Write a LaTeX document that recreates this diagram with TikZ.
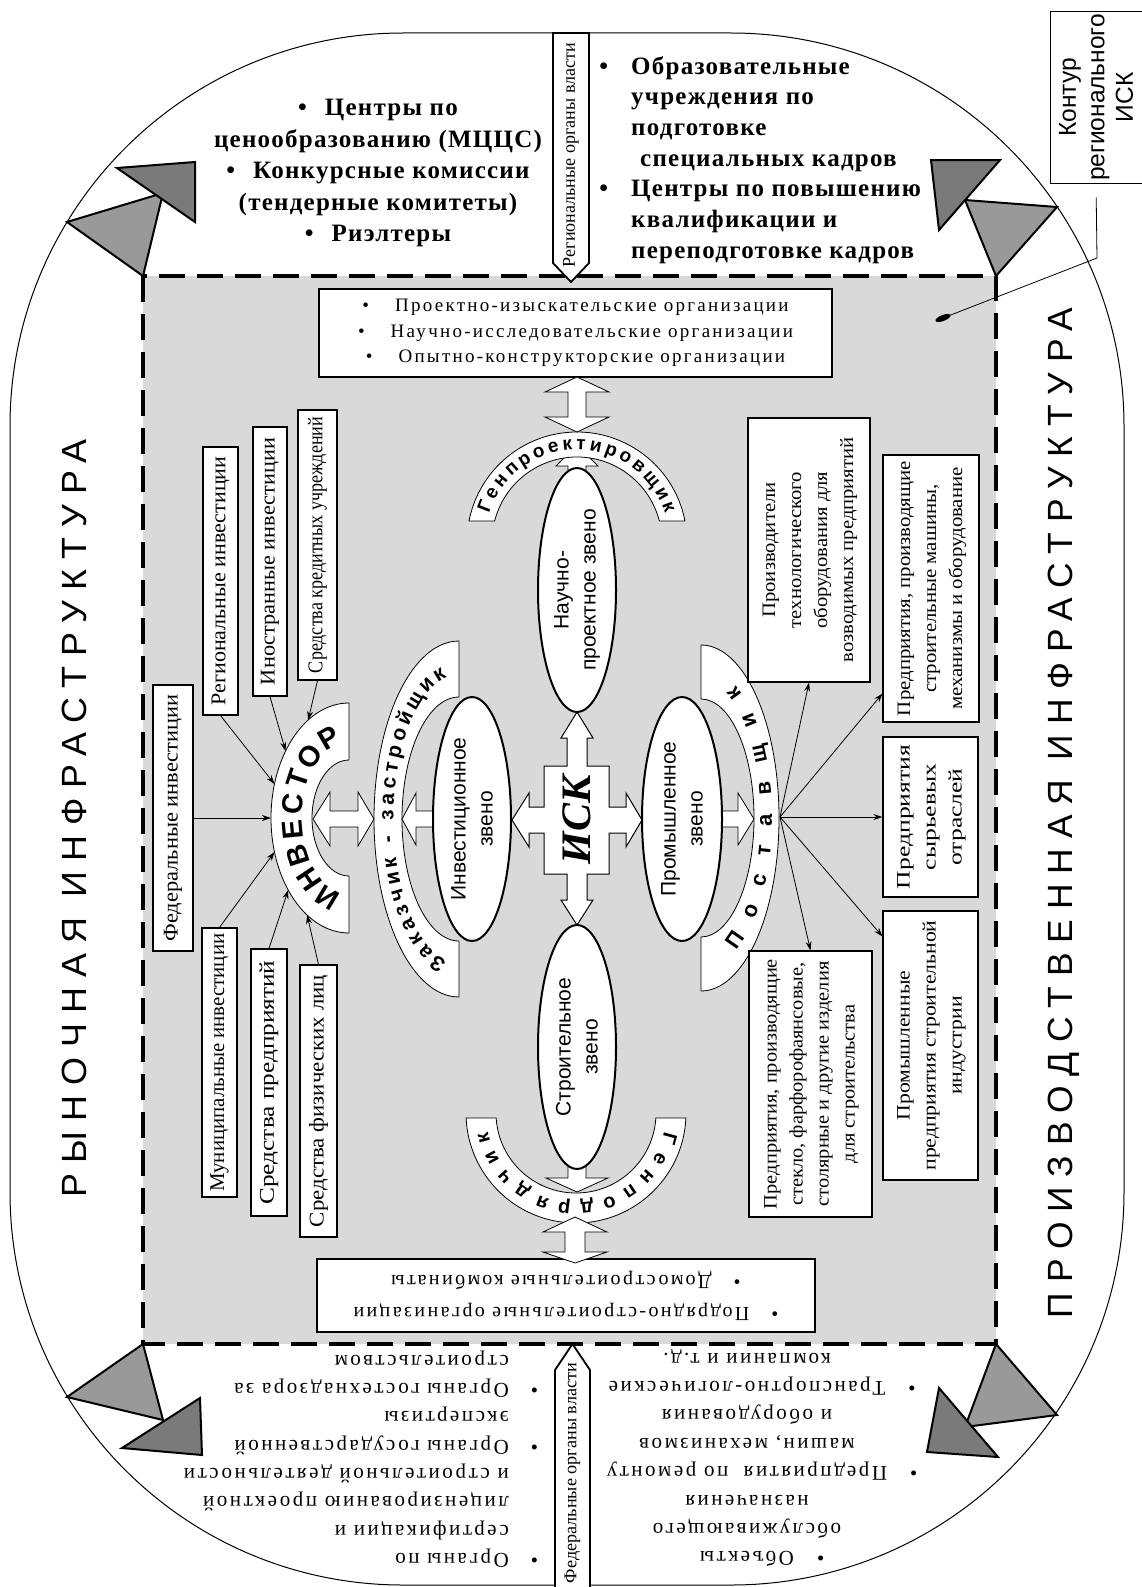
\documentclass[tikz,border=0pt]{standalone}
\usepackage{fontspec}
\usepackage{graphicx}
\setmainfont{Liberation Serif}
\setsansfont{Liberation Sans}
\newfontfamily\lsans[LetterSpace=28]{Liberation Sans}
\newfontfamily\lserif[LetterSpace=12]{Liberation Serif}
\newfontfamily\lserifb[LetterSpace=5]{Liberation Serif}
\usetikzlibrary{shapes.geometric,arrows.meta,decorations.text,calc}
\newcommand{\fitw}[2]{\resizebox{#1}{\height}{#2}}
% double horizontal block arrow: tip1 base1 base2 tip2 y shaft head
\newcommand{\harr}[7]{\draw[barrow] (#1,#5) -- (#2,#5+#7) -- (#2,#5+#6) -- (#3,#5+#6) -- (#3,#5+#7) -- (#4,#5) -- (#3,#5-#7) -- (#3,#5-#6) -- (#2,#5-#6) -- (#2,#5-#7) -- cycle;}
% double vertical block arrow: tip1 base1 base2 tip2 x shaft head
\newcommand{\varr}[7]{\draw[barrow] (#5,#1) -- (#5+#7,#2) -- (#5+#6,#2) -- (#5+#6,#3) -- (#5+#7,#3) -- (#5,#4) -- (#5-#7,#3) -- (#5-#6,#3) -- (#5-#6,#2) -- (#5-#7,#2) -- cycle;}
% single horizontal: tail base tip y shaft head
\newcommand{\hsarr}[6]{\draw[barrow] (#1,#4+#5) -- (#2,#4+#5) -- (#2,#4+#6) -- (#3,#4) -- (#2,#4-#6) -- (#2,#4-#5) -- (#1,#4-#5) -- cycle;}
% single vertical: tail base tip x shaft head
\newcommand{\vsarr}[6]{\draw[barrow] (#4+#5,#1) -- (#4+#5,#2) -- (#4+#6,#2) -- (#4,#3) -- (#4-#6,#2) -- (#4-#5,#2) -- (#4-#5,#1) -- cycle;}
\tikzset{
  band/.style={draw, fill=white, line width=0.8pt},
  barrow/.style={draw, fill=white, line width=0.8pt, line join=miter},
  zveno/.style={draw, fill=white, ellipse, line width=2pt, inner sep=0pt, rotate=90, align=center, font=\sffamily\fontsize{21}{27}\selectfont},
  wbox/.style={draw, fill=white, line width=1.1pt, inner sep=0pt, rotate=90, font=\fontsize{21}{21}\selectfont},
  pbox/.style={draw, fill=white, line width=1.1pt, inner sep=0pt, rotate=90, font=\fontsize{19}{26}\selectfont},
  feed/.style={-{Stealth[length=9pt,width=6pt]}, line width=0.8pt},
  tri1/.style={fill=black!40, draw, line width=2pt, line join=miter},
  tri2/.style={fill=black!52, draw, line width=2pt, line join=miter},
  pent/.style={draw, fill=white, line width=1.8pt, line join=miter},
}
\begin{document}
\begin{tikzpicture}[x=1pt,y=1pt]
\useasboundingbox (0,0) rectangle (1142,-1587);
\fill[white] (0,0) rectangle (1142,-1587);
% outer contour
\draw[line width=1pt, rounded corners=393pt] (10,-33) rectangle (1124,-1585);
% inner region
\fill[black!15] (143,-276) rectangle (996,-1344);
\draw[line width=4pt, dash pattern=on 26pt off 12pt] (143,-276) rectangle (996,-1344);
% corner triangles
\draw[tri1] (67,-222) -- (143,-276) -- (163,-193) -- cycle;
\draw[tri2] (117,-168) -- (195,-162) -- (195,-222) -- cycle;
\draw[tri1] (965,-200) -- (1057,-207) -- (996,-276) -- cycle;
\draw[tri2] (931,-160) -- (1000,-160) -- (939,-230) -- cycle;
\draw[tri1] (67,-1397) -- (143,-1344) -- (163,-1420) -- cycle;
\draw[tri2] (122,-1448) -- (200,-1398) -- (202,-1455) -- cycle;
\draw[tri1] (996,-1344) -- (1057,-1415) -- (965,-1427) -- cycle;
\draw[tri2] (939,-1388) -- (998,-1457) -- (927,-1452) -- cycle;
% authorities
\draw[pent] (553,-33) -- (589,-33) -- (589,-263) -- (571,-282) -- (553,-263) -- cycle;
\node[rotate=90, inner sep=0] (regorg) at (571,-155) {\fitw{224pt}{\fontsize{18}{18}\selectfont Региональные органы власти}};
\draw[pent] (555,-1587) -- (555,-1370) -- (572.5,-1344) -- (590,-1370) -- (590,-1587);
\node[rotate=90, inner sep=0] (fedorg) at (572.5,-1473) {\fitw{220pt}{\fontsize{18}{18}\selectfont Федеральные органы власти}};
% top text blocks
\node[align=center, inner sep=0, font=\lserifb\bfseries\fontsize{25}{31.5}\selectfont] (market) at (378,-173) {\textbullet\hspace{18pt}Центры по\\ценообразованию (МЦЦС)\\\textbullet\hspace{18pt}Конкурсные комиссии\\(тендерные комитеты)\\\textbullet\hspace{18pt}Риэлтеры};
\node[anchor=west, align=left, inner sep=0, font=\lserifb\bfseries\fontsize{25}{30.7}\selectfont] (edu) at (631,-160) {\llap{\textbullet\hspace{23pt}}Образовательные\\учреждения по\\подготовке\\\hspace{9pt}специальных кадров\\\llap{\textbullet\hspace{23pt}}Центры по повышению\\квалификации и\\переподготовке кадров};
% bottom text blocks (upside down)
\node[rotate=180, anchor=west, align=left, inner sep=0, font=\lserif\fontsize{21}{28.3}\selectfont] (gov) at (509,-1459) {\llap{\textbullet\hspace{22pt}}Органы по\\сертификации и\\лицензированию проектной\\и строительной деятельности\\\llap{\textbullet\hspace{22pt}}Органы государственной\\экспертизы\\\llap{\textbullet\hspace{22pt}}Органы гостехнадзора за\\строительством};
\node[rotate=180, align=center, inner sep=0, font=\lserif\fontsize{21}{28.4}\selectfont] (serv) at (747,-1458) {\llap{\textbullet\hspace{23pt}}Объекты\\обслуживающего\\назначения\\\llap{\textbullet\hspace{23pt}}Предприятия~~по ремонту\\машин, механизмов\\и оборудования\\\llap{\textbullet\hspace{23pt}}Транспортно-логические\\компании и т.д.};
% top and bottom boxes
\node[draw, fill=white, line width=1.1pt, minimum width=513pt, minimum height=88pt, inner sep=0, align=center, font=\lserif\fontsize{19}{25.5}\selectfont] (nir) at (575.5,-333) {\textbullet\hspace{26pt}Проектно-изыскательские организации\\\textbullet\hspace{26pt}Научно-исследовательские организации\\\textbullet\hspace{26pt}Опытно-конструкторские организации};
\node[draw, fill=white, line width=1.1pt, rotate=180, minimum width=498pt, minimum height=73pt, inner sep=0, align=center, font=\lserif\fontsize{20}{32}\selectfont] (podr) at (566,-1295.5) {\textbullet\hspace{22pt}Подрядно-строительные организации\\\textbullet\hspace{22pt}Домостроительные комбинаты};
% arrow partly hidden under arc
\vsarr{-478}{-466}{-445}{577}{9}{21}
% bands
\coordinate (invc) at (349,-818);
\coordinate (zakc) at (459,-819);
\coordinate (postc) at (701,-818);
\coordinate (gpc) at (577,-542);
\coordinate (gdc) at (576,-1113);
\draw[band] (349,-703) arc[start angle=90,end angle=270,x radius=78,y radius=115] -- (349,-876) arc[start angle=270,end angle=90,x radius=37,y radius=58] -- cycle;
\draw[band] (459,-641) arc[start angle=90,end angle=270,x radius=85,y radius=178] -- (459,-941) arc[start angle=270,end angle=90,x radius=57,y radius=122] -- cycle;
\draw[band] (701,-645) arc[start angle=90,end angle=-90,x radius=78,y radius=173] -- (701,-937) arc[start angle=-90,end angle=90,x radius=53,y radius=119] -- cycle;
\draw[band] ($(gpc)+(11:110)$) arc[start angle=11,end angle=169,radius=110] -- ($(gpc)+(165.7:85)$) arc[start angle=165.7,end angle=14.3,radius=85] -- cycle;
\draw[band] ($(gdc)+(-2.6:110)$) arc[start angle=-2.6,end angle=-177.4,radius=110] -- ($(gdc)+(-176.4:80)$) arc[start angle=-176.4,end angle=-3.6,radius=80] -- cycle;
% texts on bands
\path[decorate, decoration={text along path, text align={fit to path}, raise=-10.5pt, text={|\sffamily\bfseries\fontsize{29}{29}\selectfont|ИНВЕСТОР}}] ($(invc)+(258:57.5 and 86.5)$) arc[start angle=258, end angle=102, x radius=57.5, y radius=86.5];
\path[decorate, decoration={text along path, text align={fit to path}, raise=-5.5pt, text={|\sffamily\bfseries\fontsize{21}{21}\selectfont|Заказчик - застройщик}}] ($(zakc)+(258:71 and 150)$) arc[start angle=258, end angle=102, x radius=71, y radius=150];
\path[decorate, decoration={text along path, text align={fit to path}, raise=-5.5pt, text={|\sffamily\bfseries\fontsize{22}{22}\selectfont|Поставщик}}] ($(postc)+(-62:65.5 and 146)$) arc[start angle=-62, end angle=62, x radius=65.5, y radius=146];
\path[decorate, decoration={text along path, text align={fit to path}, raise=-5pt, text={|\sffamily\bfseries\fontsize{19}{19}\selectfont|Генпроектировщик}}] ($(gpc)+(162:97.5)$) arc[start angle=162, end angle=18, radius=97.5];
\path[decorate, decoration={text along path, text align={fit to path}, raise=-5pt, text={|\sffamily\bfseries\fontsize{20}{20}\selectfont|Генподрядчик}}] ($(gdc)+(-12:95)$) arc[start angle=-12, end angle=-168, radius=95];
% block arrows
\varr{-377}{-392}{-417}{-432}{577}{9}{32}
\varr{-1217}{-1232}{-1252}{-1263}{575}{10}{32}
\vsarr{-1160}{-1178}{-1192}{577}{9}{31}
\harr{313}{330}{358}{374}{-819}{8}{27}
\hsarr{440}{416}{402}{-819}{8}{26}
\hsarr{716}{738}{754}{-819}{8}{26}
% ISK cross
\draw[barrow, line width=1pt] (577,-712) -- (593,-738) -- (587,-738) -- (587,-766) -- (609,-766) -- (609,-807) -- (626,-807) -- (626,-793) -- (642,-820) -- (626,-847) -- (626,-833) -- (609,-833) -- (609,-874) -- (587,-874) -- (587,-900) -- (593,-900) -- (577,-925) -- (561,-900) -- (567,-900) -- (567,-874) -- (544,-874) -- (544,-833) -- (529,-833) -- (529,-847) -- (512,-820) -- (529,-793) -- (529,-807) -- (544,-807) -- (544,-766) -- (567,-766) -- (567,-738) -- (561,-738) -- cycle;
\node[rotate=90, inner sep=0, font=\bfseries\itshape\fontsize{42}{42}\selectfont] (isk) at (577,-820) {ИСК};
% links (ellipses)
\node[zveno, minimum width=244pt, minimum height=78pt] (nauch) at (577,-590) {Научно-\\проектное звено};
\node[zveno, minimum width=244pt, minimum height=78pt] (invz) at (472,-819) {Инвестиционное\\звено};
\node[zveno, minimum width=244pt, minimum height=80pt] (promz) at (682,-819) {Промышленное\\звено};
\node[zveno, minimum width=244pt, minimum height=78pt] (stroiz) at (577,-1047) {Строительное\\звено};
% investment sources
\node[wbox, minimum width=266pt, minimum height=40pt] (fed) at (173,-818) {\fitw{247pt}{Федеральные инвестиции}};
\node[wbox, minimum width=268pt, minimum height=35pt] (reg) at (220.5,-581) {\fitw{249pt}{Региональные инвестиции}};
\node[wbox, minimum width=269pt, minimum height=34pt] (ino) at (270,-561.5) {\fitw{247pt}{Иностранные инвестиции}};
\node[wbox, minimum width=270pt, minimum height=39pt] (cred) at (317.5,-545) {\fitw{256pt}{Средства кредитных учреждений}};
\node[wbox, minimum width=269pt, minimum height=35pt] (mun) at (219.5,-1062.5) {\fitw{258pt}{Муниципальные инвестиции}};
\node[wbox, minimum width=267pt, minimum height=36pt] (pred) at (269,-1082.5) {\fitw{244pt}{Средства предприятий}};
\node[wbox, minimum width=272pt, minimum height=37pt] (fiz) at (318.5,-1101) {\fitw{252pt}{Средства физических лиц}};
\draw[feed] (fed.south) -- ($(invc)+(180:78 and 115)$);
\draw[feed] (reg.west) -- ($(invc)+(162.8:78 and 115)$);
\draw[feed] (ino.west) -- ($(invc)+(144.4:78 and 115)$);
\draw[feed] (cred.west) -- ($(invc)+(121.6:78 and 115)$);
\draw[feed] (mun.east) -- ($(invc)+(197.2:78 and 115)$);
\draw[feed] (pred.east) -- ($(invc)+(218.8:78 and 115)$);
\draw[feed] (fiz.east) -- ($(invc)+(237.5:78 and 115)$);
% suppliers
\node[pbox, minimum width=264pt, minimum height=122pt] (p1) at (809,-550) {\fitw{225pt}{\begin{tabular}{@{}c@{}}Производители\\технологического\\оборудования для\\возводимых предприятий\end{tabular}}};
\node[pbox, minimum width=267pt, minimum height=96pt] (p2) at (931,-588.5) {\fitw{255pt}{\begin{tabular}{@{}c@{}}Предприятия, производящие\\строительные машины,\\механизмы и оборудование\end{tabular}}};
\node[pbox, minimum width=160pt, minimum height=95pt] (p3) at (930.5,-817) {\fitw{144pt}{\begin{tabular}{@{}c@{}}Предприятия\\сырьевых\\отраслей\end{tabular}}};
\node[pbox, minimum width=269pt, minimum height=95pt] (p4) at (930.5,-1045.5) {\fitw{250pt}{\begin{tabular}{@{}c@{}}Промышленные\\предприятия строительной\\индустрии\end{tabular}}};
\node[pbox, minimum width=266pt, minimum height=123pt] (p5) at (810.5,-1084) {\fitw{250pt}{\begin{tabular}{@{}c@{}}Предприятия, производящие\\стекло, фарфорофаянсовые,\\столярные и другие изделия\\для строительства\end{tabular}}};
\coordinate (hub) at (780,-817);
\draw[feed] (hub) -- (p1.west);
\draw[feed] (hub) -- ($(p2.north west)+(0,29)$);
\draw[feed] (hub) -- (p3.north);
\draw[feed] (hub) -- ($(p4.north east)+(0,-26)$);
\draw[feed] (hub) -- (p5.east);
% big labels
\node[rotate=90, inner sep=0] (rynok) at (74,-818) {\fitw{758pt}{\lsans\fontsize{35}{35}\selectfont РЫНОЧНАЯ ИНФРАСТРУКТУРА}};
\node[rotate=90, inner sep=0] (proizv) at (1064,-813) {\fitw{1010pt}{\lsans\fontsize{35}{35}\selectfont ПРОИЗВОДСТВЕННАЯ ИНФРАСТРУКТУРА}};
% contour label
\node[draw, fill=white, line width=1pt, rotate=90, minimum width=171pt, minimum height=92pt, inner sep=0, align=center, font=\sffamily\fontsize{24.5}{28.5}\selectfont] (kontur) at (1096,-97.5) {Контур\\регионального\\ИСК};
\coordinate (kbend) at (1097,-258);
\node[fill=black, ellipse, minimum width=16pt, minimum height=6pt, inner sep=0, rotate=21] (kdot) at (943,-318) {};
\draw[line width=0.8pt, shorten <=14pt] (kontur.west) -- (kbend) -- (kdot.center);
\end{tikzpicture}
\end{document}
